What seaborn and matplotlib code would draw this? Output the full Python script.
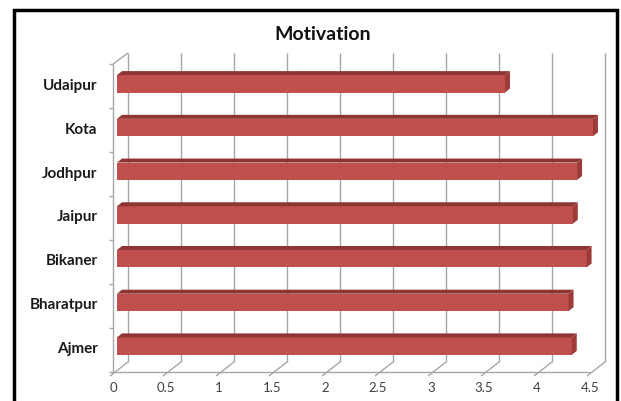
import numpy as np
import pandas as pd
import matplotlib
matplotlib.use("Agg")
import matplotlib.pyplot as plt
from matplotlib.patches import Polygon, Rectangle
import seaborn as sns

cities = ["Udaipur", "Kota", "Jodhpur", "Jaipur", "Bikaner", "Bharatpur", "Ajmer"]
scores = [3.66, 4.49, 4.34, 4.30, 4.43, 4.26, 4.29]
x_ticks = [0, 0.5, 1, 1.5, 2, 2.5, 3, 3.5, 4, 4.5]
x_tick_labels = ["0", "0.5", "1", "1.5", "2", "2.5", "3", "3.5", "4", "4.5"]
chart_title = "Motivation"

sns.set_theme(style="white")
plt.rcParams["font.family"] = ["Lato", "DejaVu Sans"]

W, H = 621, 402
fig = plt.figure(figsize=(W / 100, H / 100), dpi=100)
# axes = the plane the bars sit in (between the front axis and the back wall)
ax_l, ax_b, ax_w, ax_h = 117, 33, 477, 306
ax = fig.add_axes([ax_l / W, ax_b / H, ax_w / W, ax_h / H])
ax.set_facecolor("none")

df = pd.DataFrame({"city": cities, "score": scores})
sns.barplot(data=df, x="score", y="city", orient="h", color="#C0504D",
            saturation=1, width=0.4, edgecolor="none", ax=ax)

xmax = x_ticks[-1]
n = len(cities)
ax.set_xlim(0, xmax)
ax.set_ylim(n - 0.5, -0.5)
for s in ax.spines.values():
    s.set_visible(False)
ax.set_xticks([])
ax.set_xlabel("")
ax.set_ylabel("")
ax.tick_params(axis="y", length=0, pad=14)
for lab in ax.get_yticklabels():
    lab.set_fontweight("bold")
    lab.set_fontsize(11)
    lab.set_color("#1a1a1a")

# pixel offsets -> data units
ux = xmax / ax_w
uy = n / ax_h


def shift(x, y, dx, dy):
    return x + dx * ux, y - dy * uy


grid_c = "#A6A6A6"
back_top, back_bot = (11, 9), (11, 6)
front_top, front_bot = (-4, -2), (-4, -4)
y_top, y_bot = -0.5, n - 0.5


def seg(p, q, **kw):
    ax.plot([p[0], q[0]], [p[1], q[1]], color=grid_c, lw=1, clip_on=False,
            solid_capstyle="butt", zorder=0.5, **kw)


# back wall gridlines and floor lines
for t in x_ticks:
    seg(shift(t, y_top, *back_top), shift(t, y_bot, *back_bot))
    seg(shift(t, y_bot, *back_bot), shift(t, y_bot, -7, -8))
# front axes
seg(shift(0, y_bot, *front_bot), shift(xmax, y_bot, *front_bot))
seg(shift(0, y_bot, *front_bot), shift(0, y_top, *front_top))
seg(shift(0, y_top, *front_top), shift(0, y_top, *back_top))
for b in np.arange(-0.5, n, 1.0):
    fy = -2 - 2 * (b + 0.5) / n
    seg(shift(0, b, -4, fy), shift(0, b, -8, fy))

for t, lab in zip(x_ticks, x_tick_labels):
    ax.text(*shift(t, y_bot, -4, -19), lab, ha="center", va="center",
            fontsize=9.5, color="#404040")

# 3d faces of the bars
ddx, ddy = 5, 4
for p in ax.patches:
    x0 = p.get_x()
    x1 = x0 + p.get_width()
    yt = p.get_y()
    yb = yt + p.get_height()
    top = [(x0, yt), (x1, yt), shift(x1, yt, ddx, ddy), shift(x0, yt, ddx, ddy)]
    end = [(x1, yt), shift(x1, yt, ddx, ddy), shift(x1, yb, ddx, ddy), (x1, yb)]
    ax.add_patch(Polygon(top, closed=True, facecolor="#8E3533", edgecolor="none", clip_on=False))
    ax.add_patch(Polygon(end, closed=True, facecolor="#9E3B39", edgecolor="none", clip_on=False))

fig.text(323 / W, 1 - 34 / H, chart_title, ha="center", va="center",
         fontsize=14, fontweight="bold", color="#111111")

fig.add_artist(Rectangle((14 / W, -0.05), (617 - 14) / W, 1.05 - 11 / H,
                         fill=False, lw=2.5, edgecolor="black",
                         transform=fig.transFigure))

fig.savefig("out.png", dpi=100)
